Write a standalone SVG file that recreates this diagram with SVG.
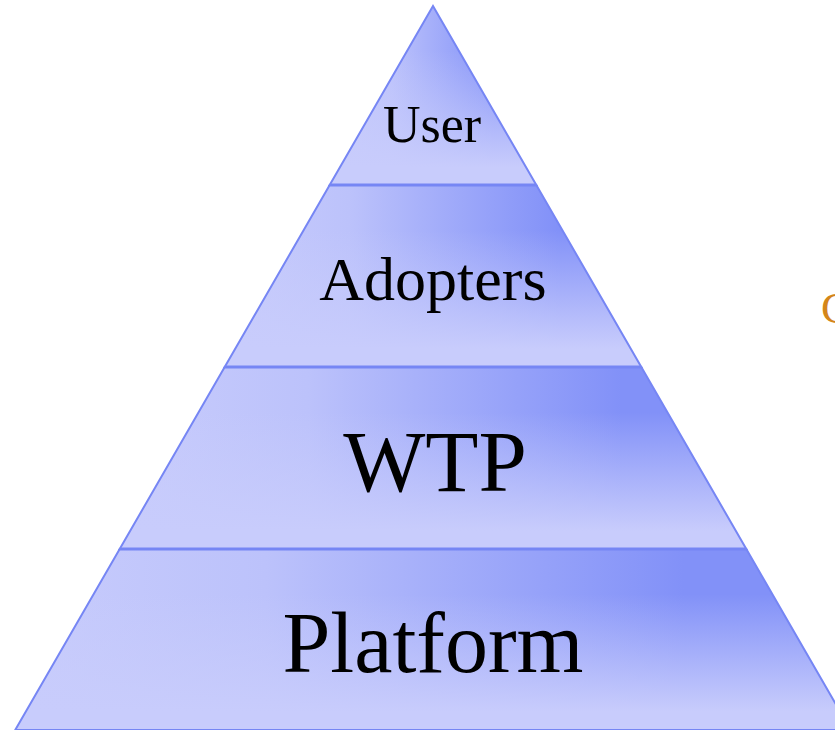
<svg xmlns="http://www.w3.org/2000/svg" width="835" height="730" viewBox="0 0 835 730">
  <defs>
    <linearGradient id="hz" x1="0" y1="0" x2="1" y2="0">
      <stop offset="0" stop-color="#c8ccfc"/>
      <stop offset="0.3" stop-color="#bcc2fb"/>
      <stop offset="0.8" stop-color="#8291f8"/>
      <stop offset="1" stop-color="#8291f8"/>
    </linearGradient>
    <linearGradient id="vt" x1="0" y1="0" x2="0" y2="1">
      <stop offset="0" stop-color="#c8ccfc" stop-opacity="0"/>
      <stop offset="0.25" stop-color="#c8ccfc" stop-opacity="0"/>
      <stop offset="0.9" stop-color="#c8ccfc" stop-opacity="1"/>
      <stop offset="1" stop-color="#c8ccfc" stop-opacity="1"/>
    </linearGradient>
  </defs>
  <style>
    .base { fill: url(#hz); }
    .over { fill: url(#vt); }
    .edge { fill: none; stroke: #7686f4; stroke-width: 2; stroke-linejoin: miter; }
    .sep { stroke: #7686f4; stroke-width: 3; }
    .lbl { font-family: "Liberation Serif", "Times New Roman", serif; fill: #000; text-anchor: middle; }
  </style>
  <rect width="835" height="730" fill="#ffffff"/>
  <g id="platform">
    <polygon class="base" points="119.7,549 746.3,549 850.8,730 15.2,730"/>
    <polygon class="over" points="119.7,549 746.3,549 850.8,730 15.2,730"/>
    <polygon class="edge" points="119.7,549 746.3,549 850.8,730 15.2,730"/>
    <text class="lbl" x="433" y="672" font-size="86">Platform</text>
  </g>
  <g id="wtp">
    <polygon class="base" points="224.7,367 641.3,367 746.3,549 119.7,549"/>
    <polygon class="over" points="224.7,367 641.3,367 746.3,549 119.7,549"/>
    <polygon class="edge" points="224.7,367 641.3,367 746.3,549 119.7,549"/>
    <text class="lbl" x="435" y="491" font-size="87">WTP</text>
  </g>
  <g id="adopters">
    <polygon class="base" points="329.7,185 536.3,185 641.3,367 224.7,367"/>
    <polygon class="over" points="329.7,185 536.3,185 641.3,367 224.7,367"/>
    <polygon class="edge" points="329.7,185 536.3,185 641.3,367 224.7,367"/>
    <text class="lbl" x="433" y="300" font-size="62">Adopters</text>
  </g>
  <g id="user">
    <polygon class="base" points="433,6 536.3,185 329.7,185"/>
    <polygon class="over" points="433,6 536.3,185 329.7,185"/>
    <polygon class="edge" points="433,6 536.3,185 329.7,185"/>
    <text class="lbl" x="432" y="142" font-size="52">User</text>
  </g>
  <g id="connectors">
    <line class="sep" x1="329.7" y1="185" x2="536.3" y2="185"/>
    <line class="sep" x1="224.7" y1="367" x2="641.3" y2="367"/>
    <line class="sep" x1="119.7" y1="549" x2="746.3" y2="549"/>
  </g>
  <text x="821" y="323" font-family="Liberation Serif, Times New Roman, serif" font-size="44" fill="#d4861a">C</text>
</svg>
